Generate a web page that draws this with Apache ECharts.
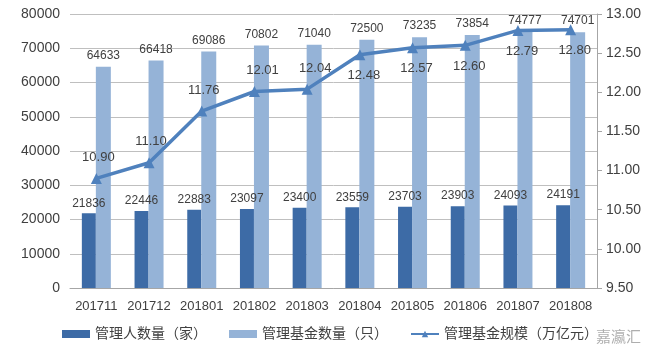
<!DOCTYPE html>
<html>
<head>
<meta charset="utf-8">
<script src="https://cdn.jsdelivr.net/npm/echarts@6/dist/echarts.min.js"></script>
<style>html,body{margin:0;padding:0;background:#fff;}#c{width:660px;height:364px;}</style>
</head>
<body>
<div id="c"></div>
<script>
var categories = ['201711','201712','201801','201802','201803','201804','201805','201806','201807','201808'];
var managers = [21836, 22446, 22883, 23097, 23400, 23559, 23703, 23903, 24093, 24191];
var funds = [64633, 66418, 69086, 70802, 71040, 72500, 73235, 73854, 74777, 74701];
var scale = [10.90, 11.10, 11.76, 12.01, 12.04, 12.48, 12.57, 12.60, 12.79, 12.80];
var seriesNames = ['管理人数量（家）', '管理基金数量（只）', '管理基金规模（万亿元）'];

var FONT = 'Liberation Sans, Noto Sans CJK SC, sans-serif';
var TXT = '#404040';
var chart = echarts.init(document.getElementById('c'));
var scaleData = scale.map(function (v, i) {
  return { value: v, label: { position: i < 5 ? 'top' : 'bottom', offset: i < 5 ? [i >= 3 ? 8 : 2, 0] : [4, 0] } };
});
chart.setOption({
  backgroundColor: '#fff',
  textStyle: { fontFamily: FONT },
  animation: false,
  grid: { left: 70, right: 63, top: 14, bottom: 76 },
  legend: {
    bottom: 18, left: 'center',
    itemWidth: 28, itemHeight: 8, itemGap: 22,
    textStyle: { fontSize: 14, color: TXT, fontFamily: FONT },
    data: [
      { name: seriesNames[0], icon: 'rect' },
      { name: seriesNames[1], icon: 'rect' },
      { name: seriesNames[2] }
    ]
  },
  xAxis: {
    type: 'category', data: categories,
    axisLine: { lineStyle: { color: '#A6A6A6' } },
    axisTick: { show: false },
    axisLabel: { fontSize: 13, color: TXT, margin: 12, interval: 0 }
  },
  yAxis: [
    {
      type: 'value', min: 0, max: 80000, interval: 10000,
      axisLine: { show: false }, axisTick: { show: false },
      splitLine: { lineStyle: { color: '#BFBFBF' } },
      axisLabel: { fontSize: 14, color: TXT, margin: 10, formatter: function (v) { return String(v); } }
    },
    {
      type: 'value', min: 9.5, max: 13, interval: 0.5, position: 'right',
      axisLine: { show: true, lineStyle: { color: '#A6A6A6' } },
      axisTick: { show: true, length: 5, lineStyle: { color: '#A6A6A6' } },
      splitLine: { show: false },
      axisLabel: { fontSize: 14, color: TXT, margin: 9, formatter: function (v) { return v.toFixed(2); } }
    }
  ],
  series: [
    {
      name: seriesNames[0], type: 'bar', data: managers, barWidth: 14, barGap: '0%',
      itemStyle: { color: '#3D6BA6' },
      label: { show: true, position: 'top', fontSize: 12, color: TXT, distance: 4 }
    },
    {
      name: seriesNames[1], type: 'bar', data: funds, barWidth: 15,
      itemStyle: { color: '#95B3D7' },
      label: { show: true, position: 'top', fontSize: 12, color: TXT, distance: 5 }
    },
    {
      name: seriesNames[2], type: 'line', yAxisIndex: 1, data: scaleData,
      symbol: 'triangle', symbolSize: 11,
      lineStyle: { color: '#4F81BD', width: 3.5 },
      itemStyle: { color: '#4F81BD' },
      label: { show: true, fontSize: 13, color: TXT, distance: 9, formatter: function (p) { return p.value.toFixed(2); } }
    }
  ],
  graphic: [
    { type: 'text', left: 596, top: 330, style: { text: '嘉瀛汇', fill: 'rgba(120,120,120,0.6)', fontSize: 15, fontFamily: FONT } }
  ]
});
</script>
</body>
</html>
